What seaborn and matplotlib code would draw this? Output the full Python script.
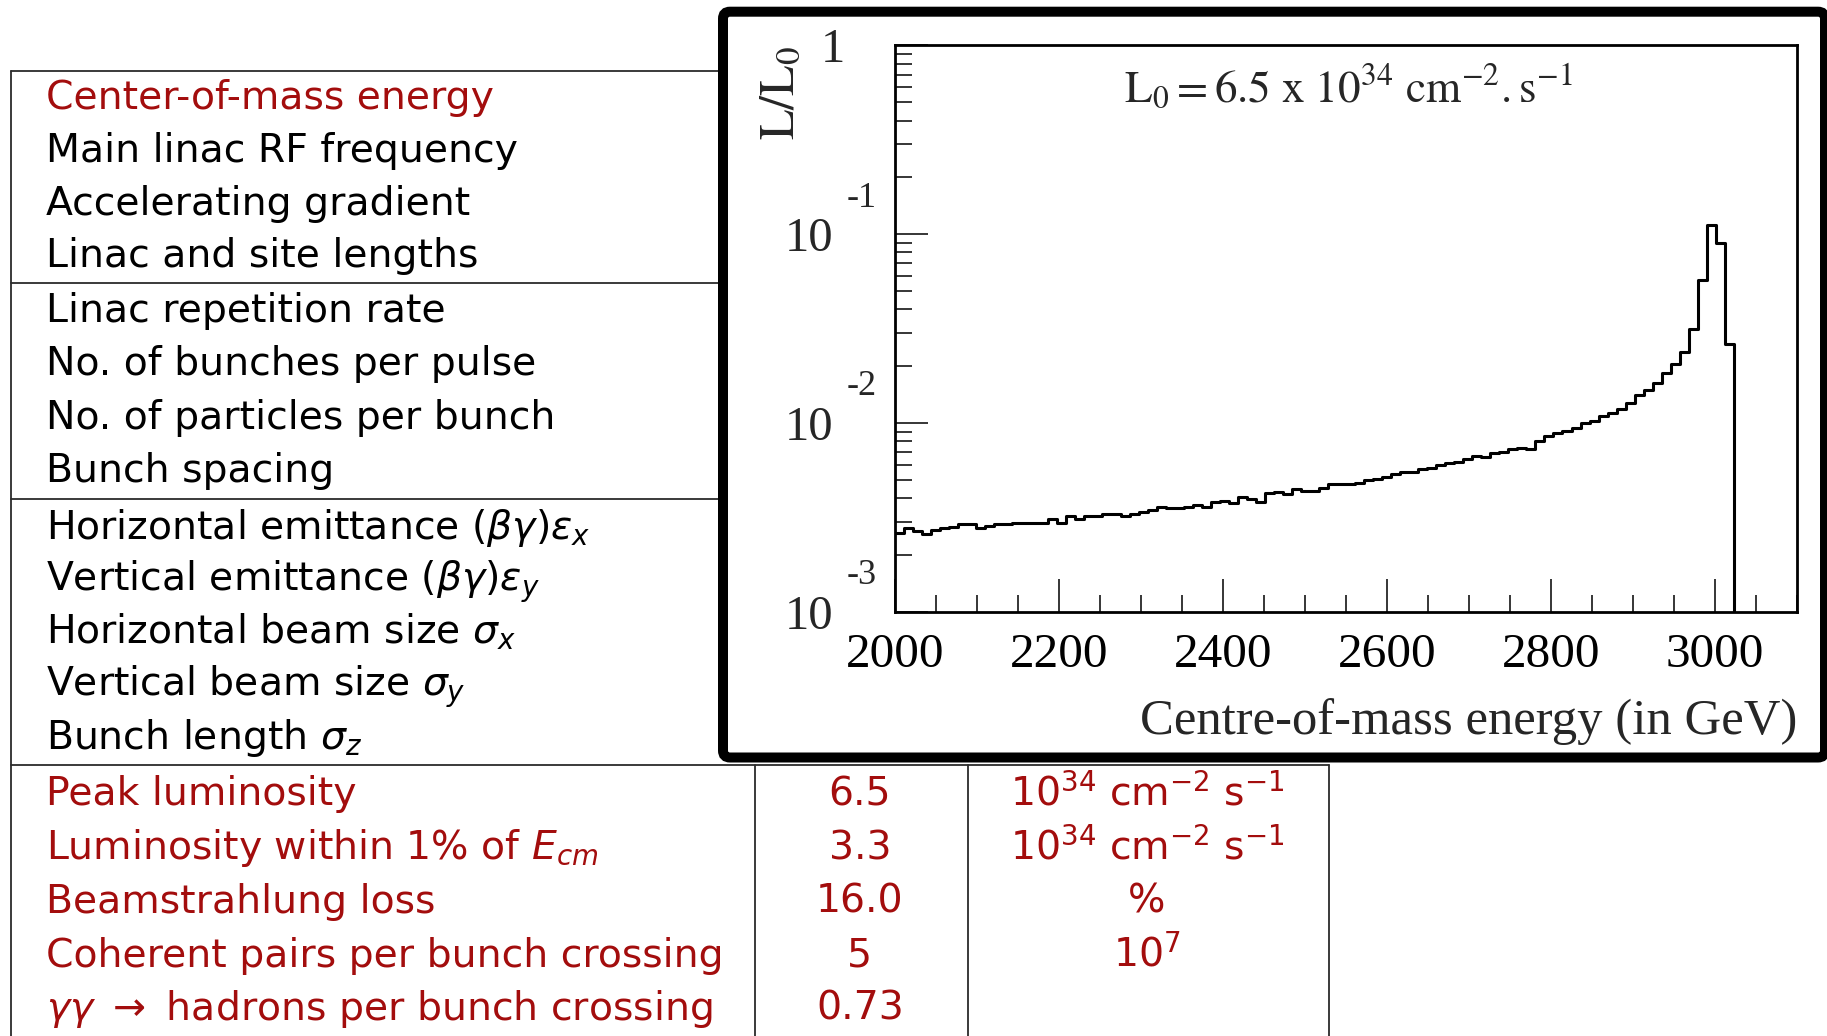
import numpy as np
import pandas as pd
import matplotlib
matplotlib.use("Agg")
import matplotlib.pyplot as plt
import matplotlib.transforms as mtransforms
from matplotlib.patches import FancyBboxPatch
from matplotlib.lines import Line2D
from matplotlib.ticker import FixedLocator, LogLocator, NullFormatter, MultipleLocator
import seaborn as sns

# ---------------------------------------------------------------- data
# Luminosity spectrum L/L0 (in units of 1e-3), 11 GeV bins from 2000 GeV
lumi_e3 = [
    2.61, 2.77, 2.66, 2.58, 2.71, 2.77, 2.81, 2.91, 2.91, 2.76,
    2.85, 2.91, 2.91, 2.96, 2.96, 2.96, 2.96, 3.09, 2.94, 3.23,
    3.09, 3.20, 3.20, 3.30, 3.30, 3.22, 3.30, 3.39, 3.46, 3.60,
    3.53, 3.53, 3.60, 3.69, 3.60, 3.80, 3.88, 3.78, 4.07, 3.97,
    3.83, 4.24, 4.33, 4.22, 4.46, 4.35, 4.35, 4.53, 4.74, 4.74,
    4.74, 4.83, 4.99, 5.05, 5.14, 5.37, 5.47, 5.50, 5.67, 5.78,
    5.99, 6.10, 6.21, 6.45, 6.69, 6.60, 6.89, 6.98, 7.24, 7.37,
    7.28, 8.03, 8.48, 8.85, 9.07, 9.37, 9.94, 10.28, 10.93, 11.25,
    11.82, 12.81, 14.07, 14.96, 16.35, 18.33, 20.54, 23.85, 31.27, 57.2,
    111.2, 89.5, 26.2, 0, 0, 0, 0, 0, 0, 0,
]
energy_min = 2000
energy_max = 3100
bin_width = 11

x_major_ticks = [2000, 2200, 2400, 2600, 2800, 3000]
y_decades = [-3, -2, -1]
peak_lumi_text = "6.5"

param_names = [
    "Center-of-mass energy",
    "Main linac RF frequency",
    "Accelerating gradient",
    "Linac and site lengths",
    "Linac repetition rate",
    "No. of bunches per pulse",
    "No. of particles per bunch",
    "Bunch spacing",
    r"Horizontal emittance $(\beta\gamma)\epsilon_x$",
    r"Vertical emittance $(\beta\gamma)\epsilon_y$",
    r"Horizontal beam size $\sigma_x$",
    r"Vertical beam size $\sigma_y$",
    r"Bunch length $\sigma_z$",
    "Peak luminosity",
    r"Luminosity within 1% of $E_{cm}$",
    "Beamstrahlung loss",
    "Coherent pairs per bunch crossing",
    r"$\gamma\gamma$ $\rightarrow$ hadrons per bunch crossing",
]
highlighted = [0, 13, 14, 15, 16, 17]
perf_values = ["6.5", "3.3", "16.0", "5", "0.73"]
perf_units = [r"10$^{34}$ cm$^{-2}$ s$^{-1}$", r"10$^{34}$ cm$^{-2}$ s$^{-1}$",
              "%", r"10$^{7}$", ""]

# ---------------------------------------------------------------- layout
W, H, DPI = 1827, 1036, 100
row_baseline = [109.3, 161.7, 215.0, 267.3, 321.7, 375.0, 429.3, 481.7,
                539.3, 590.7, 643.3, 696.0, 749.3, 805.0, 859.3, 912.7,
                966.7, 1020.0]
RED = "#a30d0d"
LINE = "#2b2b2b"
SANS = "DejaVu Sans"
SERIF = "Liberation Serif"

sns.set_theme(style="ticks")
plt.rcParams["font.family"] = [SANS]
plt.rcParams["mathtext.fontset"] = "dejavusans"

fig = plt.figure(figsize=(W / DPI, H / DPI), dpi=DPI)
fig.patch.set_facecolor("white")
# pixel coordinates measured from the top-left corner
px = mtransforms.Affine2D().scale(1 / W, -1 / H).translate(0, 1) + fig.transFigure

# ---------------------------------------------------------------- table
def hline(y, x0, x1):
    fig.add_artist(Line2D([x0, x1], [y, y], transform=px, color=LINE, lw=1.3, zorder=1))

def vline(x, y0, y1):
    fig.add_artist(Line2D([x, x], [y0, y1], transform=px, color=LINE, lw=1.3, zorder=1))

hline(70.5, 11, 725)
hline(283, 11, 725)
hline(499, 11, 725)
hline(765, 11, 1329)
vline(11, 70.5, H + 5)
for xc in (755, 968, 1329):
    vline(xc, 765, H + 5)

for i, name in enumerate(param_names):
    fig.text(46.5, row_baseline[i], name, transform=px, ha="left", va="baseline",
             fontsize=28.4, color=RED if i in highlighted else "black", zorder=3)

for j, (val, unit) in enumerate(zip(perf_values, perf_units)):
    yb = row_baseline[13 + j]
    fig.text(860, yb, val, transform=px, ha="center", va="baseline",
             fontsize=28.4, color=RED, zorder=3)
    if unit:
        fig.text(1147, yb, unit, transform=px, ha="center", va="baseline",
                 fontsize=28.4, color=RED, zorder=3)

# ---------------------------------------------------------------- inset frame
frame = FancyBboxPatch((723, 11.7), 1102, 745.8, boxstyle="round,pad=0,rounding_size=7",
                       transform=px, facecolor="white", edgecolor="black",
                       linewidth=7.2, zorder=2)
fig.add_artist(frame)

# ---------------------------------------------------------------- histogram
ax_left, ax_right, ax_top, ax_bottom = 895, 1797, 45.4, 611.7
ax = fig.add_axes([ax_left / W, 1 - ax_bottom / H,
                   (ax_right - ax_left) / W, (ax_bottom - ax_top) / H])
ax.set_zorder(4)
ax.set_facecolor("white")
ax.set_yscale("log")

edges = np.arange(energy_min, energy_max + bin_width / 2, bin_width)
centers = edges[:-1] + bin_width / 2
df = pd.DataFrame({"energy": centers, "lumi": np.asarray(lumi_e3) * 1e-3})
sns.histplot(data=df, x="energy", weights="lumi", binwidth=bin_width,
             binrange=(energy_min, energy_max), element="step",
             fill=False, color="black", linewidth=2.2, ax=ax)

ax.set_xlim(energy_min, energy_max)
ax.set_ylim(1e-3, 1)
for sp in ax.spines.values():
    sp.set_visible(True)
    sp.set_linewidth(2.0)
    sp.set_color("black")

ax.set_xticks(x_major_ticks, labels=[str(t) for t in x_major_ticks],
              fontfamily=SERIF, fontsize=35.5)
ax.xaxis.set_minor_locator(MultipleLocator(50))
ax.tick_params(axis="x", which="major", direction="in", length=23.8, width=1.1,
               pad=15.5, top=False, colors="black")
ax.tick_params(axis="x", which="minor", direction="in", length=12.2, width=1.1,
               top=False, colors="black")

ax.yaxis.set_major_locator(FixedLocator([10.0 ** d for d in y_decades + [0]]))
ax.yaxis.set_minor_locator(LogLocator(base=10, subs=np.arange(2, 10)))
ax.yaxis.set_major_formatter(NullFormatter())
ax.yaxis.set_minor_formatter(NullFormatter())
ax.tick_params(axis="y", which="major", direction="in", length=23.8, width=1.1,
               right=False, colors="black")
ax.tick_params(axis="y", which="minor", direction="in", length=12.5, width=1.1,
               right=False, colors="black")

# decade labels drawn as "10" with a raised exponent
ax_w = ax_right - ax_left
ytrans = ax.get_yaxis_transform()
up = mtransforms.ScaledTranslation(0, 36 / DPI, fig.dpi_scale_trans)
down = mtransforms.ScaledTranslation(0, -5 / DPI, fig.dpi_scale_trans)
for d in y_decades:
    ax.text((833 - ax_left) / ax_w, 10.0 ** d, "10", transform=ytrans + down,
            ha="right", va="center", fontfamily=SERIF, fontsize=35, clip_on=False)
    ax.text((847 - ax_left) / ax_w, 10.0 ** d, str(d), transform=ytrans + up,
            ha="left", va="center", fontfamily=SERIF, fontsize=26, clip_on=False)
ax.text((845 - ax_left) / ax_w, 1.0, "1", transform=ytrans + down,
        ha="right", va="center", fontfamily=SERIF, fontsize=35, clip_on=False)

ax.set_xlabel("Centre-of-mass energy (in GeV)", fontfamily=SERIF, fontsize=36.5,
              loc="right", va="baseline")
ax.xaxis.set_label_coords(1.0, -(734 - ax_bottom) / (ax_bottom - ax_top))
ax.set_ylabel(r"$\mathrm{L/L_0}$", fontsize=36, loc="top", math_fontfamily="stix")
ax.yaxis.set_label_coords((804 - ax_left) / ax_w, 1.0)

ax.text(1124, 102.5, r"$\mathrm{L_0 = 6.5\ x\ 10^{34}\ cm^{-2}.s^{-1}}$".replace("6.5", peak_lumi_text),
        transform=px, ha="left", va="baseline", fontsize=32.5, math_fontfamily="stix")

fig.savefig("out.png", dpi=DPI)
